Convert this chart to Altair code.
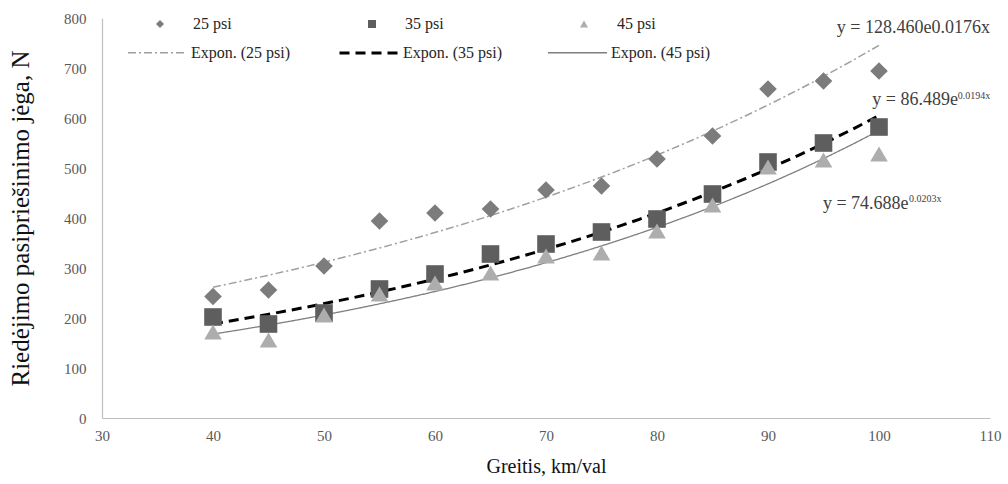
import altair as alt
import pandas as pd

speed = [40, 45, 50, 55, 60, 65, 70, 75, 80, 85, 90, 95, 100]
force_25 = [243, 256, 304, 394, 410, 418, 456, 464, 518, 564, 658, 674, 694]
force_35 = [202, 188, 210, 258, 288, 328, 348, 372, 398, 448, 512, 550, 582]
force_45 = [172, 156, 206, 248, 270, 290, 324, 330, 374, 426, 502, 516, 528]
series_names = ["25 psi", "35 psi", "45 psi"]
fit_names = ["Expon. (25 psi)", "Expon. (35 psi)", "Expon. (45 psi)"]
x_ticks = [30, 40, 50, 60, 70, 80, 90, 100, 110]
y_ticks = [0, 100, 200, 300, 400, 500, 600, 700, 800]

rows = []
for s, f, vals in zip(series_names, fit_names, [force_25, force_35, force_45]):
    for x, v in zip(speed, vals):
        rows.append({"speed": x, "force": v, "series": s, "fit": f})
df = pd.DataFrame(rows)

FONT = "Liberation Serif"

x_enc = alt.X("speed:Q", scale=alt.Scale(domain=[30, 110], nice=False),
              axis=alt.Axis(values=x_ticks, title="Greitis, km/val", labelPadding=10,
                            labelFlush=False, labelFont=FONT,
                            titlePadding=13, titleFontSize=20))
y_enc = alt.Y("force:Q", scale=alt.Scale(domain=[0, 800], nice=False),
              axis=alt.Axis(values=y_ticks, title="Riedėjimo pasipriešinimo jėga, N",
                            labelPadding=16, labelFlush=False, labelFont=FONT,
                            titlePadding=30, titleFontSize=25))

leg_pts = alt.Legend(title=None, orient="none", legendX=50, legendY=-2,
                     direction="horizontal", symbolSize=64, labelOffset=25,
                     columnPadding=132, labelFont=FONT, labelFontSize=16,
                     labelColor="#262626", padding=0, symbolStrokeWidth=0)
leg_fit = alt.Legend(title=None, orient="none", legendX=25, legendY=4,
                     direction="horizontal", symbolType="stroke", symbolSize=3481,
                     labelOffset=3, columnPadding=42, labelFont=FONT,
                     labelFontSize=16, labelColor="#262626", padding=0)

points = alt.Chart(df).mark_point(filled=True, opacity=1, size=310).encode(
    x=x_enc,
    y=y_enc,
    shape=alt.Shape("series:N", scale=alt.Scale(domain=series_names,
                    range=["diamond", "square", "triangle-up"]), legend=leg_pts),
    fill=alt.Fill("series:N", scale=alt.Scale(domain=series_names,
                  range=["#7c7c7c", "#5e5e5e", "#adadad"]), legend=leg_pts),
)

# Excel-style exponential trendline: least squares of ln(force) on speed
lines = alt.Chart(df).transform_calculate(
    logf="log(datum.force)"
).transform_regression(
    "speed", "logf", groupby=["fit"], method="poly", order=1, extent=[40, 100]
).transform_calculate(
    force="exp(datum.logf)"
).mark_line().encode(
    x="speed:Q",
    y="force:Q",
    stroke=alt.Stroke("fit:N", scale=alt.Scale(domain=fit_names,
                      range=["#a0a0a0", "#000000", "#7f7f7f"]), legend=leg_fit),
    strokeDash=alt.StrokeDash("fit:N", scale=alt.Scale(domain=fit_names,
                              range=[[8, 3, 2, 3], [10, 6], [1, 0]]), legend=leg_fit),
    strokeWidth=alt.StrokeWidth("fit:N", scale=alt.Scale(type="ordinal", domain=fit_names,
                                range=[1.5, 3, 1.3]), legend=leg_fit),
)

eq_style = dict(font=FONT, color="#404040", align="left", baseline="middle")
eq1 = alt.Chart().mark_text(fontSize=18, **eq_style).encode(
    x=alt.datum(96.2), y=alt.datum(780), text=alt.datum("y = 128.460e0.0176x"))
eq2 = alt.Chart().mark_text(fontSize=18, **eq_style).encode(
    x=alt.datum(99.4), y=alt.datum(636), text=alt.datum("y = 86.489e"))
eq2s = alt.Chart().mark_text(fontSize=10, **eq_style).encode(
    x=alt.datum(107.1), y=alt.datum(644), text=alt.datum("0.0194x"))
eq3 = alt.Chart().mark_text(fontSize=18, **eq_style).encode(
    x=alt.datum(94.95), y=alt.datum(428), text=alt.datum("y = 74.688e"))
eq3s = alt.Chart().mark_text(fontSize=10, **eq_style).encode(
    x=alt.datum(102.7), y=alt.datum(438), text=alt.datum("0.0203x"))

chart = alt.layer(lines, points, eq1, eq2, eq2s, eq3, eq3s).properties(
    width=888, height=400, autosize="none", background="white",
    padding={"left": 102, "top": 18, "right": 18, "bottom": 66},
).configure_view(stroke=None).configure_axis(
    grid=False, ticks=False, domainColor="#bfbfbf", domainWidth=1.2,
    labelFont=FONT, labelFontSize=15, labelColor="#595959",
    titleFont=FONT, titleFontWeight="normal", titleColor="#111111",
)

chart.save("out.html", embed_options={"renderer": "svg", "actions": False})
